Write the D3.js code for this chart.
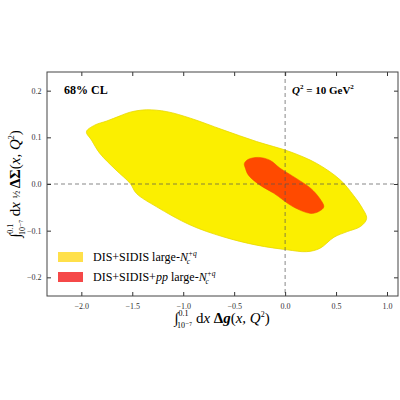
<!DOCTYPE html><html><head><meta charset="utf-8">
<script src="https://cdn.jsdelivr.net/npm/d3@7"></script>
<style>body{margin:0;background:#fff}text{font-family:"Liberation Serif","DejaVu Serif",serif}</style></head><body>
<svg id="c" width="400" height="400"></svg>
<script>
const xTicks=[-2.0,-1.5,-1.0,-0.5,0.0,0.5,1.0];
const yTicks=[-0.2,-0.1,0.0,0.1,0.2];
const yellowX=[-1.95,-1.87,-1.75,-1.62,-1.52,-1.36,-1.16,-0.93,-0.61,-0.28,0.05,0.31,0.54,0.67,0.75,0.80,0.74,0.61,0.48,0.34,0.21,0.02,-0.28,-0.61,-0.93,-1.26,-1.46,-1.52,-1.66,-1.82,-1.90];
const yellowY=[0.112,0.126,0.135,0.146,0.154,0.159,0.155,0.141,0.116,0.091,0.069,0.044,0.009,-0.024,-0.049,-0.074,-0.091,-0.102,-0.114,-0.138,-0.145,-0.141,-0.131,-0.113,-0.088,-0.049,-0.020,0.001,0.030,0.066,0.094];
const redX=[-0.40,-0.36,-0.26,-0.15,-0.05,0.11,0.25,0.34,0.38,0.33,0.25,0.08,-0.11,-0.25,-0.36,-0.39];
const redY=[0.044,0.053,0.057,0.051,0.034,0.012,-0.009,-0.031,-0.049,-0.059,-0.063,-0.049,-0.020,-0.002,0.019,0.034];
const svg=d3.select("#c");
const L=47,R=398,T=72,B=296;
const x=d3.scaleLinear().domain([-2.337,1.108]).range([L,R]);
const y=d3.scaleLinear().domain([-0.24,0.24]).range([B,T]);
const line=d3.line().x(d=>x(d[0])).y(d=>y(d[1])).curve(d3.curveCatmullRomClosed);
svg.append("path").attr("d",line(yellowX.map((v,i)=>[v,yellowY[i]]))).attr("fill","#fbef00").attr("stroke","#e8d800").attr("stroke-width",0.8);
svg.append("path").attr("d",line(redX.map((v,i)=>[v,redY[i]]))).attr("fill","#ff4a00").attr("stroke","#f04000").attr("stroke-width",0.5);
svg.append("line").attr("x1",x(0)).attr("x2",x(0)).attr("y1",T).attr("y2",B).attr("stroke","#555").attr("stroke-dasharray","4,3").attr("stroke-width",0.7);
svg.append("line").attr("x1",L).attr("x2",R).attr("y1",y(0)).attr("y2",y(0)).attr("stroke","#555").attr("stroke-dasharray","4,3").attr("stroke-width",0.7);
const fmt=d=>d.toFixed(1).replace("-","\u2212");
const ax=svg.append("g").attr("transform",`translate(0,${B})`).call(d3.axisBottom(x).tickValues(xTicks).tickSize(-4).tickFormat(fmt));
const ay=svg.append("g").attr("transform",`translate(${L},0)`).call(d3.axisLeft(y).tickValues(yTicks).tickSize(-4).tickFormat(fmt));
svg.append("g").attr("transform",`translate(0,${T})`).call(d3.axisTop(x).tickValues(xTicks).tickSize(-4).tickFormat(""));
svg.append("g").attr("transform",`translate(${R},0)`).call(d3.axisRight(y).tickValues(yTicks).tickSize(-4).tickFormat(""));
svg.selectAll(".domain").remove();
svg.selectAll(".tick line").attr("stroke","#333");
svg.selectAll(".tick text").attr("font-size",8).attr("fill","#333").style("font-family","'Liberation Serif',serif");
ax.selectAll(".tick text").attr("dy","1.2em");
ay.selectAll(".tick text").attr("dx","-0.3em");
svg.append("rect").attr("x",L).attr("y",T).attr("width",R-L).attr("height",B-T).attr("fill","none").attr("stroke","#444").attr("stroke-width",1);
svg.append("text").attr("x",64).attr("y",94).attr("font-size",12).attr("font-weight","bold").text("68% CL");
const q=svg.append("text").attr("x",292).attr("y",94).attr("font-size",11).attr("font-weight","bold");
q.append("tspan").attr("font-style","italic").text("Q");q.append("tspan").attr("font-size",7).attr("dy",-5).text("2");
q.append("tspan").attr("dy",5).text(" = 10 GeV");q.append("tspan").attr("font-size",7).attr("dy",-5).text("2");
svg.append("rect").attr("x",58).attr("y",252).attr("width",25).attr("height",10).attr("fill","#ffe04a");
svg.append("rect").attr("x",58).attr("y",272).attr("width",25).attr("height",10).attr("fill","#f54848");
function legText(yy,withpp){const t=svg.append("text").attr("x",93).attr("y",yy).attr("font-size",12);
 if(withpp){t.append("tspan").text("DIS+SIDIS+");t.append("tspan").attr("font-style","italic").text("pp");t.append("tspan").text(" large-");}
 else t.append("tspan").text("DIS+SIDIS large-");
 t.append("tspan").attr("font-style","italic").text("N");t.append("tspan").attr("font-size",7.5).attr("font-style","italic").attr("dy",-5).text("+q");
 t.append("tspan").attr("font-size",7.5).attr("font-style","italic").attr("dx",-10).attr("dy",8).text("c");}
legText(261,false);legText(281,true);
function label(sel,body){
 sel.append("tspan").text("\u222B");
 sel.append("tspan").attr("font-size",8).attr("dy",-7).text("0.1");
 sel.append("tspan").attr("font-size",8).attr("dx",-11).attr("dy",12).text("10\u207B\u2077");
 sel.append("tspan").attr("dy",-5).text(" d");sel.append("tspan").attr("font-style","italic").text("x ");
 body(sel);
 sel.append("tspan").text("(");sel.append("tspan").attr("font-style","italic").text("x, Q");
 sel.append("tspan").attr("font-size",8).attr("dy",-6).text("2");sel.append("tspan").attr("dy",6).text(")");
}
const xl=svg.append("text").attr("x",222).attr("y",323).attr("text-anchor","middle").attr("font-size",15);
label(xl,s=>{s.append("tspan").attr("font-weight","bold").text("\u0394");s.append("tspan").attr("font-style","italic").attr("font-weight","bold").text("g");});
const yl=svg.append("text").attr("transform","translate(20,184) rotate(-90)").attr("text-anchor","middle").attr("font-size",15);
label(yl,s=>{s.append("tspan").attr("font-size",10).text("\u00BD ");s.append("tspan").attr("font-weight","bold").text("\u0394\u03A3");});
</script></body></html>
